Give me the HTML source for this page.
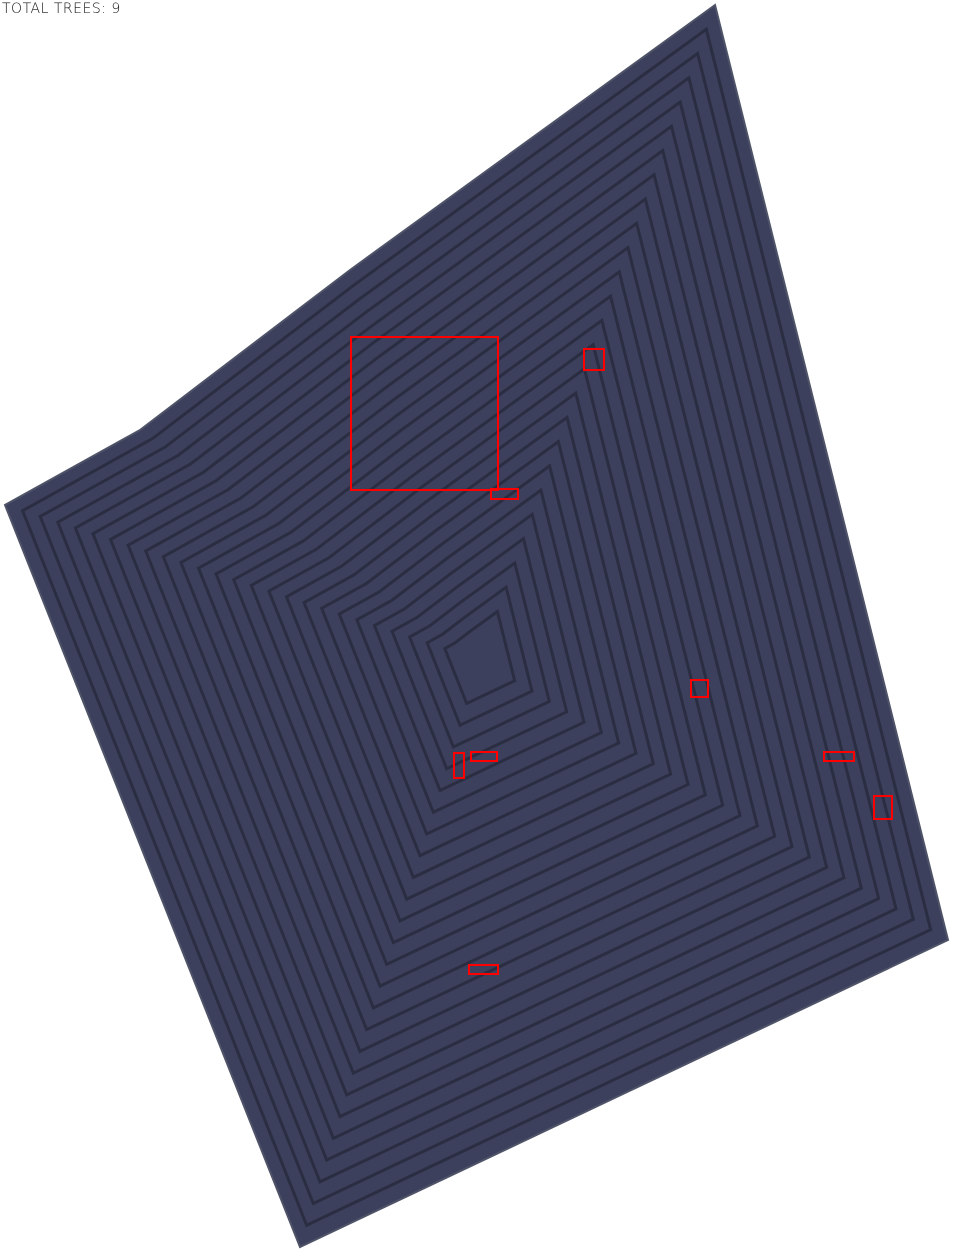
<!DOCTYPE html>
<html><head><meta charset="utf-8"><style>
html,body{margin:0;padding:0;background:#fff;width:954px;height:1252px;overflow:hidden}
#title{position:absolute;left:2px;top:1px;font-family:"DejaVu Sans","Liberation Sans",sans-serif;font-size:14px;font-weight:300;color:#111;letter-spacing:0.5px}
svg{position:absolute;left:0;top:0}
</style></head><body>
<svg id="map" width="954" height="1252"></svg>
<div id="title">TOTAL TREES: 9</div>
<script>
// field outline corners
const fieldX = [715, 948, 300, 5, 140, 350];
const fieldY = [5, 940, 1247, 505, 430, 270];
// detected tree boxes: x, y, width, height
const boxX = [351, 584, 491, 691, 454, 471, 824, 874, 469];
const boxY = [337, 349, 489, 680, 753, 752, 752, 796, 965];
const boxW = [147, 20, 27, 17, 10, 26, 30, 18, 29];
const boxH = [153, 21, 10, 17, 25, 9, 9, 23, 9];

const NS = "http://www.w3.org/2000/svg";
const svg = document.getElementById('map');
const order = [0, 1, 2, 3, 4, 5];
const pts = order.map(i => [fieldX[i], fieldY[i]]);
const poly = document.createElementNS(NS, 'polygon');
poly.setAttribute('points', pts.map(p => p.join(',')).join(' '));
poly.setAttribute('fill', '#3c405c');
poly.setAttribute('stroke', '#4f5368');
poly.setAttribute('stroke-width', '2');


svg.appendChild(poly);

// concentric row texture
const cx = 480, cy = 660;
const g = document.createElementNS(NS, 'g');


svg.appendChild(g);
for (let k = 1; k < 26; k++) {
  const s = 1 - k / 27;
  const r = document.createElementNS(NS, 'polygon');
  r.setAttribute('points', pts.map(p => (cx + (p[0] - cx) * s) + ',' + (cy + (p[1] - cy) * s)).join(' '));
  r.setAttribute('fill', 'none');
  r.setAttribute('stroke', '#1d1f2e');
  r.setAttribute('stroke-width', '3');
  r.setAttribute('stroke-opacity', '0.55');
  
  
  g.appendChild(r);
}

for (let i = 0; i < boxX.length; i++) {
  const b = document.createElementNS(NS, 'rect');
  b.setAttribute('x', boxX[i]);
  b.setAttribute('y', boxY[i]);
  b.setAttribute('width', boxW[i]);
  b.setAttribute('height', boxH[i]);
  b.setAttribute('fill', 'none');
  b.setAttribute('stroke', '#ff0000');
  b.setAttribute('stroke-width', '2');
  
  
  svg.appendChild(b);
}
</script>
</body></html>
